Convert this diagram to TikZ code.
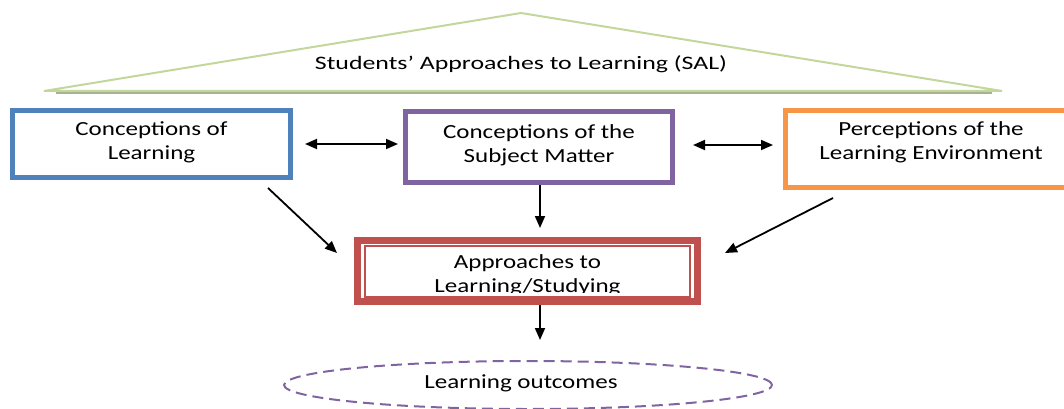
\documentclass[tikz,border=0pt]{standalone}
\usepackage{fontspec}
\setmainfont{Carlito}
\usetikzlibrary{arrows.meta,shapes.geometric,calc}
\definecolor{blu}{HTML}{4F81BD}
\definecolor{pur}{HTML}{8064A2}
\definecolor{org}{HTML}{F79646}
\definecolor{rd}{HTML}{C0504D}
\definecolor{trigreen}{HTML}{C3D69B}
\definecolor{shgreen}{HTML}{A6B38E}
\newcommand\sx[2]{\scalebox{#1}[1]{\begin{tabular}{@{}c@{}}#2\end{tabular}}}
\begin{document}
\begin{tikzpicture}[x=1pt,y=-1pt,
  box/.style={draw, line width=5pt, fill=white, inner sep=0pt},
  txt/.style={font=\fontsize{20}{23.5}\selectfont, inner sep=0pt},
  arr/.style={line width=1.8pt, -{Triangle[length=12pt,width=10pt]}},
  darr/.style={line width=1.8pt, {Triangle[length=12pt,width=10pt]}-{Triangle[length=12pt,width=10pt]}}]
\useasboundingbox (0,0) rectangle (1064,409);
\clip (0,0) rectangle (1064,409);
% roof
\coordinate (tA) at (521,13);
\coordinate (tL) at (44,91);
\coordinate (tR) at (1002,91);
\draw[shgreen, line width=3pt] (56,93) -- (992,93);
\draw[trigreen, line width=2pt, fill=white] (tL) -- (tA) -- (tR) -- cycle;
\node[font=\fontsize{19}{22}\selectfont, inner sep=0pt] (sal) at (521,65) {\sx{1.36}{Students’ Approaches to Learning (SAL)}};
% boxes
\node[box, draw=blu, minimum width=278pt, minimum height=67pt] (c1) at (151.5,144) {};
\node[txt] (c1t) at (151.5,143) {\sx{1.25}{Conceptions of\\Learning}};
\node[box, draw=pur, minimum width=267pt, minimum height=71pt] (c2) at (539,147) {};
\node[txt] (c2t) at (539,146) {\sx{1.25}{Conceptions of the\\Subject Matter}};
\node[box, draw=org, minimum width=291pt, minimum height=77pt] (c3) at (931,149) {};
\node[txt] (c3t) at (931,143) {\sx{1.25}{Perceptions of the\\Learning Environment}};
% approaches box
\node[draw=rd, line width=7pt, fill=white, minimum width=340pt, minimum height=61pt, inner sep=0pt] (a) at (527.5,271) {};
\node[draw=rd, line width=2pt, minimum width=325pt, minimum height=51pt, inner sep=0pt] (ain) at (527.5,271) {};
\begin{scope}
\clip (360,246) rectangle (695,292);
\node[txt] (at) at (527.5,276) {\sx{1.25}{Approaches to\\Learning/Studying}};
\end{scope}
% outcomes
\node[ellipse, draw=pur, line width=2pt, dash pattern=on 11pt off 6pt, minimum width=488pt, minimum height=48pt, inner sep=0pt] (lo) at (528,385) {};
\node[txt] (lot) at (521,384) {\sx{1.25}{Learning outcomes}};
% connectors
\draw[darr, shorten <=12pt, shorten >=5pt] (c1.east |- 0,144) -- (c2.west |- 0,144);
\draw[darr, shorten <=18pt, shorten >=10pt] (c2.east |- 0,145) -- (c3.west |- 0,145);
\draw[arr, shorten >=9pt] (c2.south -| 540,0) -- (a.north -| 540,0);
\coordinate (e1s) at (268,188);
\coordinate (e1e) at (337,253);
\draw[arr] (e1s) -- (e1e);
\coordinate (e3s) at (833,198);
\coordinate (e3e) at (725,253);
\draw[arr] (e3s) -- (e3e);
\draw[arr, shorten >=20pt] (a.south -| 540,0) -- (lo.north -| 540,0);
\end{tikzpicture}
\end{document}
